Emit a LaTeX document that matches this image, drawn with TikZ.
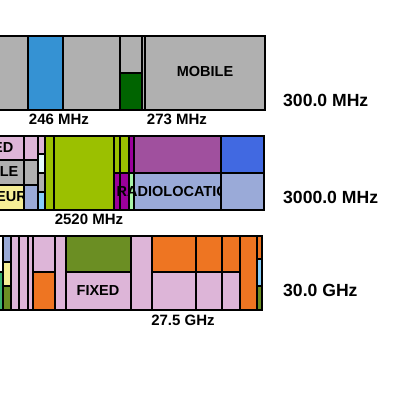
\documentclass[tikz,border=0pt]{standalone}
\usepackage{fontspec}
\setmainfont{Liberation Sans}
\usepackage{xcolor}

\definecolor{bandgrey}{HTML}{B0B0B0}
\definecolor{bandblue}{HTML}{3592D3}
\definecolor{bandgreen}{HTML}{006400}
\definecolor{bandpink}{HTML}{DDB5D8}
\definecolor{bandlime}{HTML}{9BC000}
\definecolor{bandplum}{HTML}{A0509E}
\definecolor{bandroyal}{HTML}{4169E1}
\definecolor{bandsteel}{HTML}{9AAAD8}
\definecolor{bandmag}{HTML}{9B009B}
\definecolor{bandpale}{HTML}{A8F5A8}
\definecolor{bandcyan}{HTML}{E6FCFC}
\definecolor{bandsky}{HTML}{87CEFA}
\definecolor{bandyellow}{HTML}{F5EE96}
\definecolor{bandolive}{HTML}{6B8E23}
\definecolor{bandorange}{HTML}{EE7522}
\definecolor{bandsea}{HTML}{3CB371}

\begin{document}
\begin{tikzpicture}[x=1pt, y=-1pt,
  cell/.style={draw=black, line width=1.5pt},
  frame/.style={draw=black, line width=2pt},
  every node/.style={font=\bfseries, inner sep=0pt},
  tag/.style={font=\bfseries\fontsize{14.5}{16}\selectfont},
  freq/.style={font=\bfseries\fontsize{15}{17}\selectfont},
  band/.style={font=\bfseries\fontsize{17.6}{20}\selectfont, anchor=west}]

  \useasboundingbox (0,0) rectangle (400,400);
  \clip (0,0) rectangle (400,400);

  % 300 MHz strip
  \filldraw[cell, fill=bandgrey] (-5,36) rectangle (28,110);
  \filldraw[cell, fill=bandblue] (28,36) rectangle (63,110);
  \filldraw[cell, fill=bandgrey] (63,36) rectangle (120,110);
  \filldraw[cell, fill=bandgrey] (120,36) rectangle (142,73);
  \filldraw[cell, fill=bandgreen] (120,73) rectangle (142,110);
  \filldraw[cell, fill=bandgrey] (142,36) rectangle (145,110);
  \filldraw[cell, fill=bandgrey] (145,36) rectangle (265,110);
  \draw[frame] (-5,36) rectangle (265,110);

  \node[tag] (mobile) at (205,72) {MOBILE};
  \node[freq] (f246) at (59,119) {246 MHz};
  \node[freq] (f273) at (177,119) {273 MHz};
  \node[band] (b300) at (283,100) {300.0 MHz};

  % 3000 MHz strip
  \filldraw[cell, fill=bandpink] (-5,136) rectangle (24,160);
  \filldraw[cell, fill=bandgrey] (-5,160) rectangle (24,185);
  \filldraw[cell, fill=bandyellow] (-5,185) rectangle (24,210);
  \filldraw[cell, fill=bandpink] (24,136) rectangle (38,160);
  \filldraw[cell, fill=bandgrey] (24,160) rectangle (38,185);
  \filldraw[cell, fill=bandsteel] (24,185) rectangle (38,210);
  \filldraw[cell, fill=bandpink] (38,136) rectangle (45,154);
  \filldraw[cell, fill=bandcyan] (38,154) rectangle (45,173);
  \filldraw[cell, fill=bandgrey] (38,173) rectangle (45,192);
  \filldraw[cell, fill=bandsky] (38,192) rectangle (45,210);
  \filldraw[cell, fill=bandlime] (45,136) rectangle (54,210);
  \filldraw[cell, fill=bandlime] (54,136) rectangle (114,210);
  \filldraw[cell, fill=bandlime] (114,136) rectangle (120,173);
  \filldraw[cell, fill=bandmag] (114,173) rectangle (120,210);
  \filldraw[cell, fill=bandlime] (120,136) rectangle (129,173);
  \filldraw[cell, fill=bandmag] (120,173) rectangle (129,210);
  \filldraw[cell, fill=bandmag] (129,136) rectangle (134,173);
  \filldraw[cell, fill=bandpale] (129,173) rectangle (134,210);
  \filldraw[cell, fill=bandplum] (134,136) rectangle (221,173);
  \filldraw[cell, fill=bandsteel] (134,173) rectangle (221,210);
  \filldraw[cell, fill=bandroyal] (221,136) rectangle (264,173);
  \filldraw[cell, fill=bandsteel] (221,173) rectangle (264,210);

  \begin{scope}
    \clip (-5,136) rectangle (24,210);
    \node[tag, anchor=east] (fixedA) at (13.5,148) {FIXED};
    \node[tag, anchor=east] (mobileA) at (18.5,172) {MOBILE};
    \node[tag, anchor=east] (amateur) at (27,197) {AMATEUR};
  \end{scope}
  \begin{scope}
    \clip (100,173) rectangle (221,210);
    \node[tag, anchor=west] (radioloc) at (116.5,192) {RADIOLOCATION};
  \end{scope}
  \draw[frame] (-5,136) rectangle (264,210);

  \node[freq] (f2520) at (89,219) {2520 MHz};
  \node[band] (b3000) at (283,197) {3000.0 MHz};

  % 30 GHz strip
  \filldraw[cell, fill=white] (-5,236) rectangle (3,272);
  \filldraw[cell, fill=bandsea] (-5,272) rectangle (3,310);
  \filldraw[cell, fill=bandsteel] (3,236) rectangle (11,262);
  \filldraw[cell, fill=bandyellow] (3,262) rectangle (11,286);
  \filldraw[cell, fill=bandolive] (3,286) rectangle (11,310);
  \filldraw[cell, fill=bandpink] (11,236) rectangle (19,310);
  \filldraw[cell, fill=bandpink] (19,236) rectangle (28,310);
  \filldraw[cell, fill=bandpink] (28,236) rectangle (33,310);
  \filldraw[cell, fill=bandpink] (33,236) rectangle (55,272);
  \filldraw[cell, fill=bandorange] (33,272) rectangle (55,310);
  \filldraw[cell, fill=bandpink] (55,236) rectangle (66,310);
  \filldraw[cell, fill=bandolive] (66,236) rectangle (131,272);
  \filldraw[cell, fill=bandpink] (66,272) rectangle (131,310);
  \filldraw[cell, fill=bandpink] (131,236) rectangle (152,310);
  \filldraw[cell, fill=bandorange] (152,236) rectangle (196,272);
  \filldraw[cell, fill=bandpink] (152,272) rectangle (196,310);
  \filldraw[cell, fill=bandorange] (196,236) rectangle (222,272);
  \filldraw[cell, fill=bandpink] (196,272) rectangle (222,310);
  \filldraw[cell, fill=bandorange] (222,236) rectangle (240,272);
  \filldraw[cell, fill=bandpink] (222,272) rectangle (240,310);
  \filldraw[cell, fill=bandorange] (240,236) rectangle (257,310);
  \filldraw[cell, fill=bandorange] (257,236) rectangle (262,259);
  \filldraw[cell, fill=bandsky] (257,259) rectangle (262,286);
  \filldraw[cell, fill=bandolive] (257,286) rectangle (262,310);
  \draw[frame] (-5,236) rectangle (262,310);

  \node[tag] (fixed) at (98,291) {FIXED};
  \node[freq] (f275) at (183,320) {27.5 GHz};
  \node[band] (b30) at (283,290) {30.0 GHz};
\end{tikzpicture}
\end{document}
